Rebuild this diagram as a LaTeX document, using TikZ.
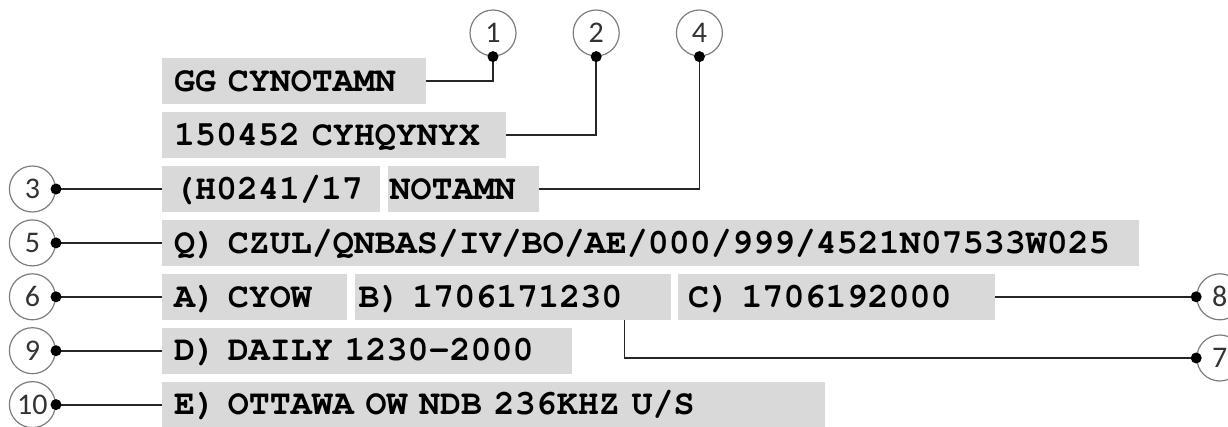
\documentclass[tikz,border=0pt]{standalone}
\usepackage{fontspec}
\usepackage{xcolor}
\newfontfamily\notamfont{TeX Gyre Cursor}
\newfontfamily\calloutfont{Carlito}
\usetikzlibrary{positioning}
\definecolor{fieldgray}{RGB}{217,217,217}
\definecolor{ringgray}{RGB}{125,125,125}
\newcommand\notamsize{\fontsize{35}{40}\selectfont\fontdimen2\font=21pt\fontdimen3\font=0pt\fontdimen4\font=0pt}

\begin{document}
\begin{tikzpicture}[x=1pt,y=-1pt,
		field/.style={
			fill=fieldgray,
			anchor=north west,
			minimum height=46pt,
			inner ysep=0pt,
			align=left,
			text height=20.5pt,
			text depth=0pt,
			font=\notamfont\bfseries\notamsize
		},
		num/.style={
			circle,
			draw=ringgray,
			line width=1.2pt,
			minimum size=46pt,
			inner sep=0pt,
			text=black!80,
			font=\calloutfont\fontsize{30}{32}\selectfont
		},
		lead/.style={line width=1.8pt,draw=black!85},
		dot/.style={fill=black}
	]
	\useasboundingbox (0,0) rectangle (1228,426);
	\clip (0,0) rectangle (1228,426);
	
	\node[field,text width=240pt,inner xsep=12pt] (r1) at (162,58) {GG CYNOTAMN};
	\node[field,text width=320pt,inner xsep=12pt,below=7.5pt of r1.south west,anchor=north west] (r2) {150452 CYHQYNYX};
	\node[field,text width=194pt,inner xsep=12pt,below=7.5pt of r2.south west,anchor=north west] (r3a) {(H0241/17};
	\node[field,text width=147pt,inner xsep=2pt,right=7pt of r3a] (r3b) {NOTAMN};
	\node[field,text width=953pt,inner xsep=12pt,below=7.5pt of r3a.south west,anchor=north west] (r4) {Q) CZUL/QNBAS/IV/BO/AE/000/999/4521N07533W025};
	\node[field,text width=161pt,inner xsep=12pt,below=7.5pt of r4.south west,anchor=north west] (r5a) {A) CYOW};
	\node[field,text width=308pt,inner xsep=4pt,right=7pt of r5a] (r5b) {B) 1706171230};
	\node[field,text width=297pt,inner xsep=10pt,right=7pt of r5b] (r5c) {C) 1706192000};
	\node[field,text width=386pt,inner xsep=12pt,below=7.5pt of r5a.south west,anchor=north west] (r6) {D) DAILY 1230-2000};
	\node[field,text width=639pt,inner xsep=12pt,below=7.5pt of r6.south west,anchor=north west] (r7) {E) OTTAWA OW NDB 236KHZ U/S};
	
	\node[num] (n1) at (493,33) {1};
	\node[num,right=56pt of n1] (n2) {2};
	\node[num,right=56pt of n2] (n4) {4};
	\foreach \n/\r in {3/r3a,5/r4,6/r5a,9/r6,10/r7}
		\node[num,left=106pt of \r] (n\n) {\n};
	\node[num,right=201pt of r5c] (n8) {8};
	\node[num,below=14pt of n8] (n7) {7};
	
	\coordinate (t7) at ([xshift=270pt]r5b.south west);
	
	\draw[lead] (r1.east) -| (n1.south);
	\draw[lead] (r2.east) -| (n2.south);
	\draw[lead] (r3b.east) -| (n4.south);
	\foreach \n/\r in {3/r3a,5/r4,6/r5a,9/r6,10/r7}
		\draw[lead] (n\n.east) -- (\r.west);
	\draw[lead] (r5c.east) -- (n8.west);
	\draw[lead] (t7) |- (n7.west);
	
	\foreach \a in {n1.south,n2.south,n4.south,n3.east,n5.east,n6.east,n9.east,n10.east,n8.west,n7.west}
		\fill[dot] (\a) circle (5.5pt);
\end{tikzpicture}
\end{document}
